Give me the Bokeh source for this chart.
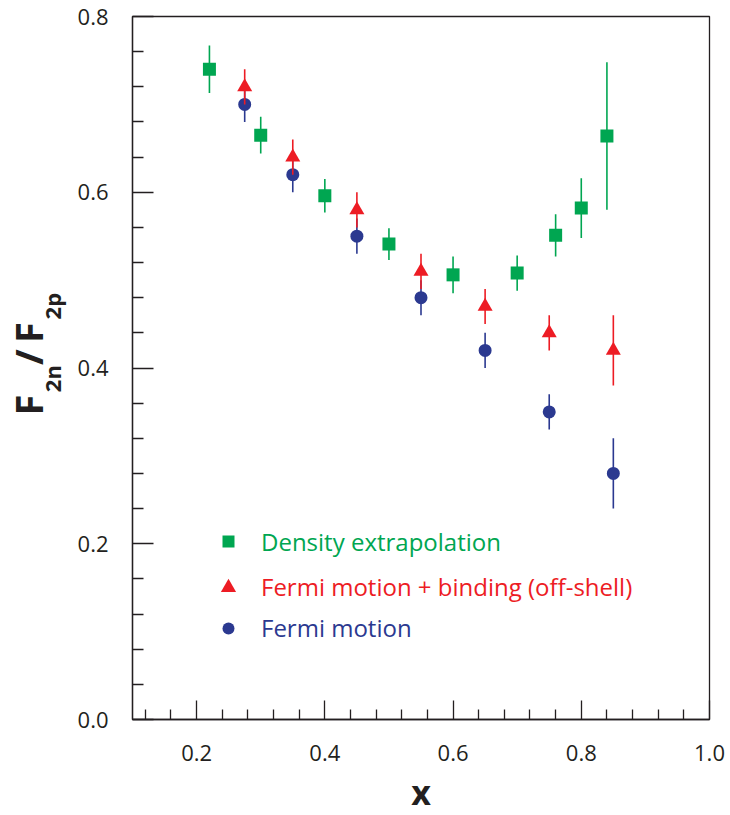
from bokeh.plotting import figure
from bokeh.models import (Legend, LegendItem, FixedTicker, Range1d, Title,
                          ColumnDataSource, PrintfTickFormatter)
from bokeh.embed import file_html
from bokeh.resources import INLINE

# ---- data ----
x_density = [0.22, 0.30, 0.40, 0.50, 0.60, 0.70, 0.76, 0.80, 0.84]
y_density = [0.740, 0.665, 0.596, 0.541, 0.506, 0.508, 0.551, 0.582, 0.664]
e_density = [0.027, 0.021, 0.019, 0.018, 0.021, 0.020, 0.024, 0.034, 0.084]

x_offshell = [0.275, 0.35, 0.45, 0.55, 0.65, 0.75, 0.85]
y_offshell = [0.72, 0.64, 0.58, 0.51, 0.47, 0.44, 0.42]
e_offshell = [0.02, 0.02, 0.02, 0.02, 0.02, 0.02, 0.04]

x_fermi = [0.275, 0.35, 0.45, 0.55, 0.65, 0.75, 0.85]
y_fermi = [0.70, 0.62, 0.55, 0.48, 0.42, 0.35, 0.28]
e_fermi = [0.02, 0.02, 0.02, 0.02, 0.02, 0.02, 0.04]

labels = ["Density extrapolation", "Fermi motion + binding (off-shell)", "Fermi motion"]

x_major = [0.2, 0.4, 0.6, 0.8, 1.0]
x_minor = [0.12, 0.16, 0.24, 0.28, 0.32, 0.36, 0.44, 0.48, 0.52, 0.56,
           0.64, 0.68, 0.72, 0.76, 0.84, 0.88, 0.92, 0.96]
y_major = [0.0, 0.2, 0.4, 0.6, 0.8]
y_minor = [0.04, 0.08, 0.12, 0.16, 0.24, 0.28, 0.32, 0.36, 0.44, 0.48,
           0.52, 0.56, 0.64, 0.68, 0.72, 0.76]

GREEN = "#00a651"
RED = "#ed1c24"
BLUE = "#2b3990"
INK = "#231f20"
FONT = "Open Sans"
NB = "\u00a0"
THIN = "\u2009"

p = figure(frame_width=577, frame_height=703,
           x_range=Range1d(0.1, 1.0), y_range=Range1d(0.0, 0.8),
           output_backend="svg", toolbar_location=None,
           min_border_left=132, min_border_right=21,
           min_border_top=16, min_border_bottom=96,
           background_fill_color="white", border_fill_color="white",
           outline_line_color=INK, outline_line_width=1.3)
p.grid.visible = False

xa = p.xaxis[0]
ya = p.yaxis[0]
xa.ticker = FixedTicker(ticks=x_major, minor_ticks=x_minor)
ya.ticker = FixedTicker(ticks=y_major, minor_ticks=y_minor)
for ax in (xa, ya):
    ax.formatter = PrintfTickFormatter(format="%.1f")
    ax.axis_line_color = INK
    ax.axis_line_width = 1.3
    ax.major_tick_line_color = INK
    ax.minor_tick_line_color = INK
    ax.major_tick_line_width = 1.3
    ax.minor_tick_line_width = 1.3
    ax.major_tick_out = 0
    ax.minor_tick_out = 0
    ax.major_label_text_font = FONT
    ax.major_label_text_font_size = "22px"
    ax.major_label_text_color = INK
xa.major_tick_in = 19
xa.minor_tick_in = 10
xa.major_label_standoff = 25
ya.major_tick_in = 21
ya.minor_tick_in = 11
ya.major_label_standoff = 24

xa.axis_label = "x"
xa.axis_label_text_font = FONT
xa.axis_label_text_font_style = "bold"
xa.axis_label_text_font_size = "34px"
xa.axis_label_text_color = INK
xa.axis_label_standoff = 5


def source(xs, ys, es):
    return ColumnDataSource(dict(
        x=xs, y=ys,
        lo=[v - e for v, e in zip(ys, es)],
        hi=[v + e for v, e in zip(ys, es)]))


src_d = source(x_density, y_density, e_density)
src_o = source(x_offshell, y_offshell, e_offshell)
src_f = source(x_fermi, y_fermi, e_fermi)

p.segment("x", "lo", "x", "hi", source=src_d, line_color=GREEN, line_width=1.6)
r_d = p.scatter("x", "y", source=src_d, marker="square", size=13,
                fill_color=GREEN, line_color=None)
p.segment("x", "lo", "x", "hi", source=src_f, line_color=BLUE, line_width=1.6)
r_f = p.scatter("x", "y", source=src_f, marker="circle", size=13,
                fill_color=BLUE, line_color=None)
p.segment("x", "lo", "x", "hi", source=src_o, line_color=RED, line_width=1.6)
r_o = p.scatter("x", "y", source=src_o, marker="triangle", size=15,
                fill_color=RED, line_color=None)


def add_legend(renderer, label, color, loc, gsize, standoff):
    leg = Legend(items=[LegendItem(label=label, renderers=[renderer])],
                 location=loc, glyph_width=gsize, glyph_height=gsize,
                 label_standoff=standoff, padding=0, margin=0, spacing=0,
                 border_line_color=None, background_fill_alpha=0,
                 label_text_font=FONT, label_text_font_size="24px",
                 label_text_color=color, label_text_baseline="middle")
    p.add_layout(leg, "center")


add_legend(r_d, labels[0], GREEN, (81, 161.5), 30, 18)
add_legend(r_o, labels[1], RED, (77, 113.5), 38, 14)
add_legend(r_f, labels[2], BLUE, (81, 75), 30, 18)

# ---- y-axis title F_2n / F_2p, as two stacked left-side titles ----
sub_title = Title(text="2n" + NB * 8 + "2p", align="left", offset=327.3,
                  standoff=15.2, vertical_align="bottom",
                  text_font=FONT, text_font_size="22px",
                  text_font_style="bold", text_color=INK)
main_title = Title(text="F" + NB * 3 + "/" + THIN + "F", align="left", offset=304,
                   standoff=-52, vertical_align="bottom",
                   text_font=FONT, text_font_size="38px",
                   text_font_style="bold", text_color=INK)
p.add_layout(sub_title, "left")
p.add_layout(main_title, "left")

open("out.html", "w").write(file_html(p, INLINE))
